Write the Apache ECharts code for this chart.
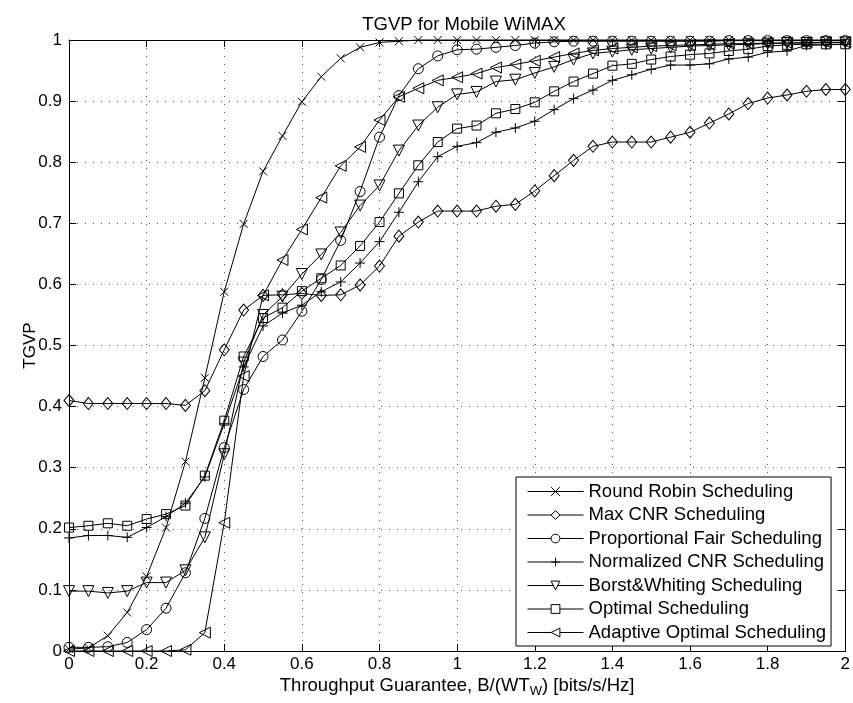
<!DOCTYPE html>
<html>
<head>
<meta charset="utf-8">
<script src="https://cdn.jsdelivr.net/npm/echarts@6/dist/echarts.min.js"></script>
<style>
html,body{margin:0;padding:0;background:#fff;}
#chart{width:853px;height:703px;}
</style>
</head>
<body>
<div id="chart"></div>
<script>
var xValues = [0,0.05,0.1,0.15,0.2,0.25,0.3,0.35,0.4,0.45,0.5,0.55,0.6,0.65,0.7,0.75,0.8,0.85,0.9,0.95,1.0,1.05,1.1,1.15,1.2,1.25,1.3,1.35,1.4,1.45,1.5,1.55,1.6,1.65,1.7,1.75,1.8,1.85,1.9,1.95,2.0];

var roundRobin = [0.003,0.005,0.025,0.063,0.122,0.202,0.31,0.447,0.588,0.699,0.785,0.843,0.899,0.94,0.97,0.988,0.996,0.998,1,1,1,1,1,1,1,1,1,1,1,1,1,1,1,1,1,1,1,1,1,1,1];
var maxCNR = [0.41,0.405,0.405,0.405,0.405,0.405,0.402,0.426,0.493,0.558,0.582,0.583,0.585,0.582,0.583,0.599,0.63,0.679,0.702,0.72,0.72,0.72,0.728,0.731,0.753,0.778,0.803,0.826,0.833,0.833,0.833,0.841,0.849,0.864,0.879,0.896,0.905,0.91,0.916,0.919,0.919];
var propFair = [0.006,0.006,0.007,0.014,0.035,0.07,0.128,0.217,0.333,0.428,0.482,0.509,0.556,0.608,0.672,0.752,0.841,0.909,0.953,0.974,0.984,0.985,0.988,0.991,0.995,0.997,0.998,0.998,0.998,0.998,0.998,0.998,0.998,0.998,0.999,0.999,0.999,0.999,0.999,0.999,0.999];
var normCNR = [0.185,0.189,0.189,0.186,0.202,0.22,0.242,0.285,0.372,0.465,0.532,0.553,0.566,0.588,0.604,0.635,0.67,0.718,0.768,0.809,0.826,0.832,0.849,0.856,0.867,0.886,0.904,0.918,0.934,0.943,0.952,0.959,0.959,0.961,0.969,0.972,0.98,0.982,0.991,0.992,0.993];
var borstWhiting = [0.098,0.098,0.095,0.098,0.112,0.112,0.132,0.186,0.322,0.472,0.55,0.58,0.617,0.649,0.685,0.729,0.762,0.819,0.86,0.89,0.911,0.915,0.932,0.935,0.946,0.956,0.968,0.978,0.981,0.984,0.986,0.988,0.99,0.991,0.992,0.993,0.994,0.995,0.995,0.996,0.996];
var optimal = [0.202,0.205,0.209,0.205,0.216,0.224,0.238,0.287,0.377,0.482,0.545,0.562,0.589,0.61,0.631,0.663,0.702,0.749,0.795,0.833,0.855,0.86,0.88,0.887,0.898,0.916,0.932,0.945,0.958,0.961,0.968,0.973,0.976,0.978,0.982,0.985,0.99,0.992,0.993,0.993,0.993];
var adaptiveOptimal = [0,0,0,0,0,0,0.002,0.03,0.21,0.45,0.582,0.64,0.69,0.742,0.794,0.825,0.869,0.907,0.921,0.934,0.939,0.945,0.955,0.96,0.966,0.972,0.978,0.983,0.986,0.988,0.99,0.991,0.992,0.993,0.994,0.994,0.995,0.995,0.996,0.996,0.996];

var seriesNames = ['Round Robin Scheduling','Max CNR Scheduling','Proportional Fair Scheduling','Normalized CNR Scheduling','Borst&Whiting Scheduling','Optimal Scheduling','Adaptive Optimal Scheduling'];
var xTickLabels = ['0','0.2','0.4','0.6','0.8','1','1.2','1.4','1.6','1.8','2'];
var yTickLabels = ['0','0.1','0.2','0.3','0.4','0.5','0.6','0.7','0.8','0.9','1'];

var FONT = '"Liberation Sans", Arial, Helvetica, sans-serif';
var seriesData = [roundRobin, maxCNR, propFair, normCNR, borstWhiting, optimal, adaptiveOptimal];
var symbols = [
  'path://M0,0L10,10M10,0L0,10',
  'diamond',
  'circle',
  'path://M5,0L5,10M0,5L10,5',
  'path://M0,0L10,0L5,8.5Z',
  'rect',
  'path://M8.5,0L8.5,10L0,5Z'
];
var sizes = [8, [10,12], 10, 10, 11, 9, 11];

function pairs(arr){ return xValues.map(function(x,i){ return [x, arr[i]]; }); }

var series = seriesData.map(function(d, i){
  return {
    name: seriesNames[i],
    type: 'line',
    data: pairs(d),
    symbol: symbols[i],
    symbolSize: sizes[i],
    showSymbol: true,
    clip: false,
    lineStyle: {color: '#000', width: 1},
    itemStyle: {color: 'none', borderColor: '#000', borderWidth: 1},
    emphasis: {disabled: true},
    silent: true
  };
});

var chart = echarts.init(document.getElementById('chart'), null, {renderer: 'canvas'});
var gridLine = {show: true, lineStyle: {color: '#555', type: [1, 7], width: 1}};
chart.setOption({
  animation: false,
  backgroundColor: '#fff',
  title: {
    text: 'TGVP for Mobile WiMAX',
    left: 459, textAlign: 'center', top: 10,
    textStyle: {fontFamily: FONT, fontSize: 18.5, fontWeight: 'normal', color: '#000'}
  },
  grid: {left: 69, right: 3, top: 40, bottom: 47, containLabel: false},
  legend: {
    data: seriesNames,
    orient: 'vertical',
    left: 516, top: 477,
    backgroundColor: '#fff',
    borderColor: '#000', borderWidth: 1,
    padding: [5, 5, 4, 11],
    itemWidth: 56, itemHeight: 11, itemGap: 4.5,
    selectedMode: false,
    itemStyle: {color: '#fff', borderColor: '#000', borderWidth: 1},
    lineStyle: {color: '#000', width: 1},
    textStyle: {fontFamily: FONT, fontSize: 18.5, color: '#000'}
  },
  xAxis: [{
    type: 'value', min: 0, max: 2, interval: 0.2,
    position: 'bottom',
    name: 'Throughput Guarantee, B/(WT{sub|W}) [bits/s/Hz]',
    nameLocation: 'middle', nameGap: 23, nameMoveOverlap: false,
    nameTextStyle: {fontFamily: FONT, fontSize: 18.5, color: '#000',
      rich: {sub: {fontFamily: FONT, fontSize: 13, color: '#000', padding: [11, 0, 0, 0]}}},
    axisLine: {show: true, onZero: false, lineStyle: {color: '#000', width: 1}},
    axisTick: {show: true, inside: true, length: 7, lineStyle: {color: '#000'}},
    axisLabel: {fontFamily: FONT, fontSize: 17, color: '#000', margin: 5,
      formatter: function(v){ var i = Math.round(v/0.2); return xTickLabels[i]; }},
    splitLine: gridLine
  }, {
    type: 'value', min: 0, max: 2, interval: 0.2,
    position: 'top',
    axisLine: {show: true, onZero: false, lineStyle: {color: '#000', width: 1}},
    axisTick: {show: true, inside: true, length: 7, lineStyle: {color: '#000'}},
    axisLabel: {show: false},
    splitLine: {show: false}
  }],
  yAxis: [{
    type: 'value', min: 0, max: 1, interval: 0.1,
    position: 'left',
    name: 'TGVP',
    nameLocation: 'middle', nameGap: 30, nameRotate: 90, nameMoveOverlap: false,
    nameTextStyle: {fontFamily: FONT, fontSize: 17, color: '#000'},
    axisLine: {show: true, onZero: false, lineStyle: {color: '#000', width: 1}},
    axisTick: {show: true, inside: true, length: 7, lineStyle: {color: '#000'}},
    axisLabel: {fontFamily: FONT, fontSize: 17, color: '#000', margin: 7,
      formatter: function(v){ var i = Math.round(v/0.1); return yTickLabels[i]; }},
    splitLine: gridLine
  }, {
    type: 'value', min: 0, max: 1, interval: 0.1,
    position: 'right',
    axisLine: {show: true, onZero: false, lineStyle: {color: '#000', width: 1}},
    axisTick: {show: true, inside: true, length: 7, lineStyle: {color: '#000'}},
    axisLabel: {show: false},
    splitLine: {show: false}
  }],
  series: series
});
</script>
</body>
</html>
